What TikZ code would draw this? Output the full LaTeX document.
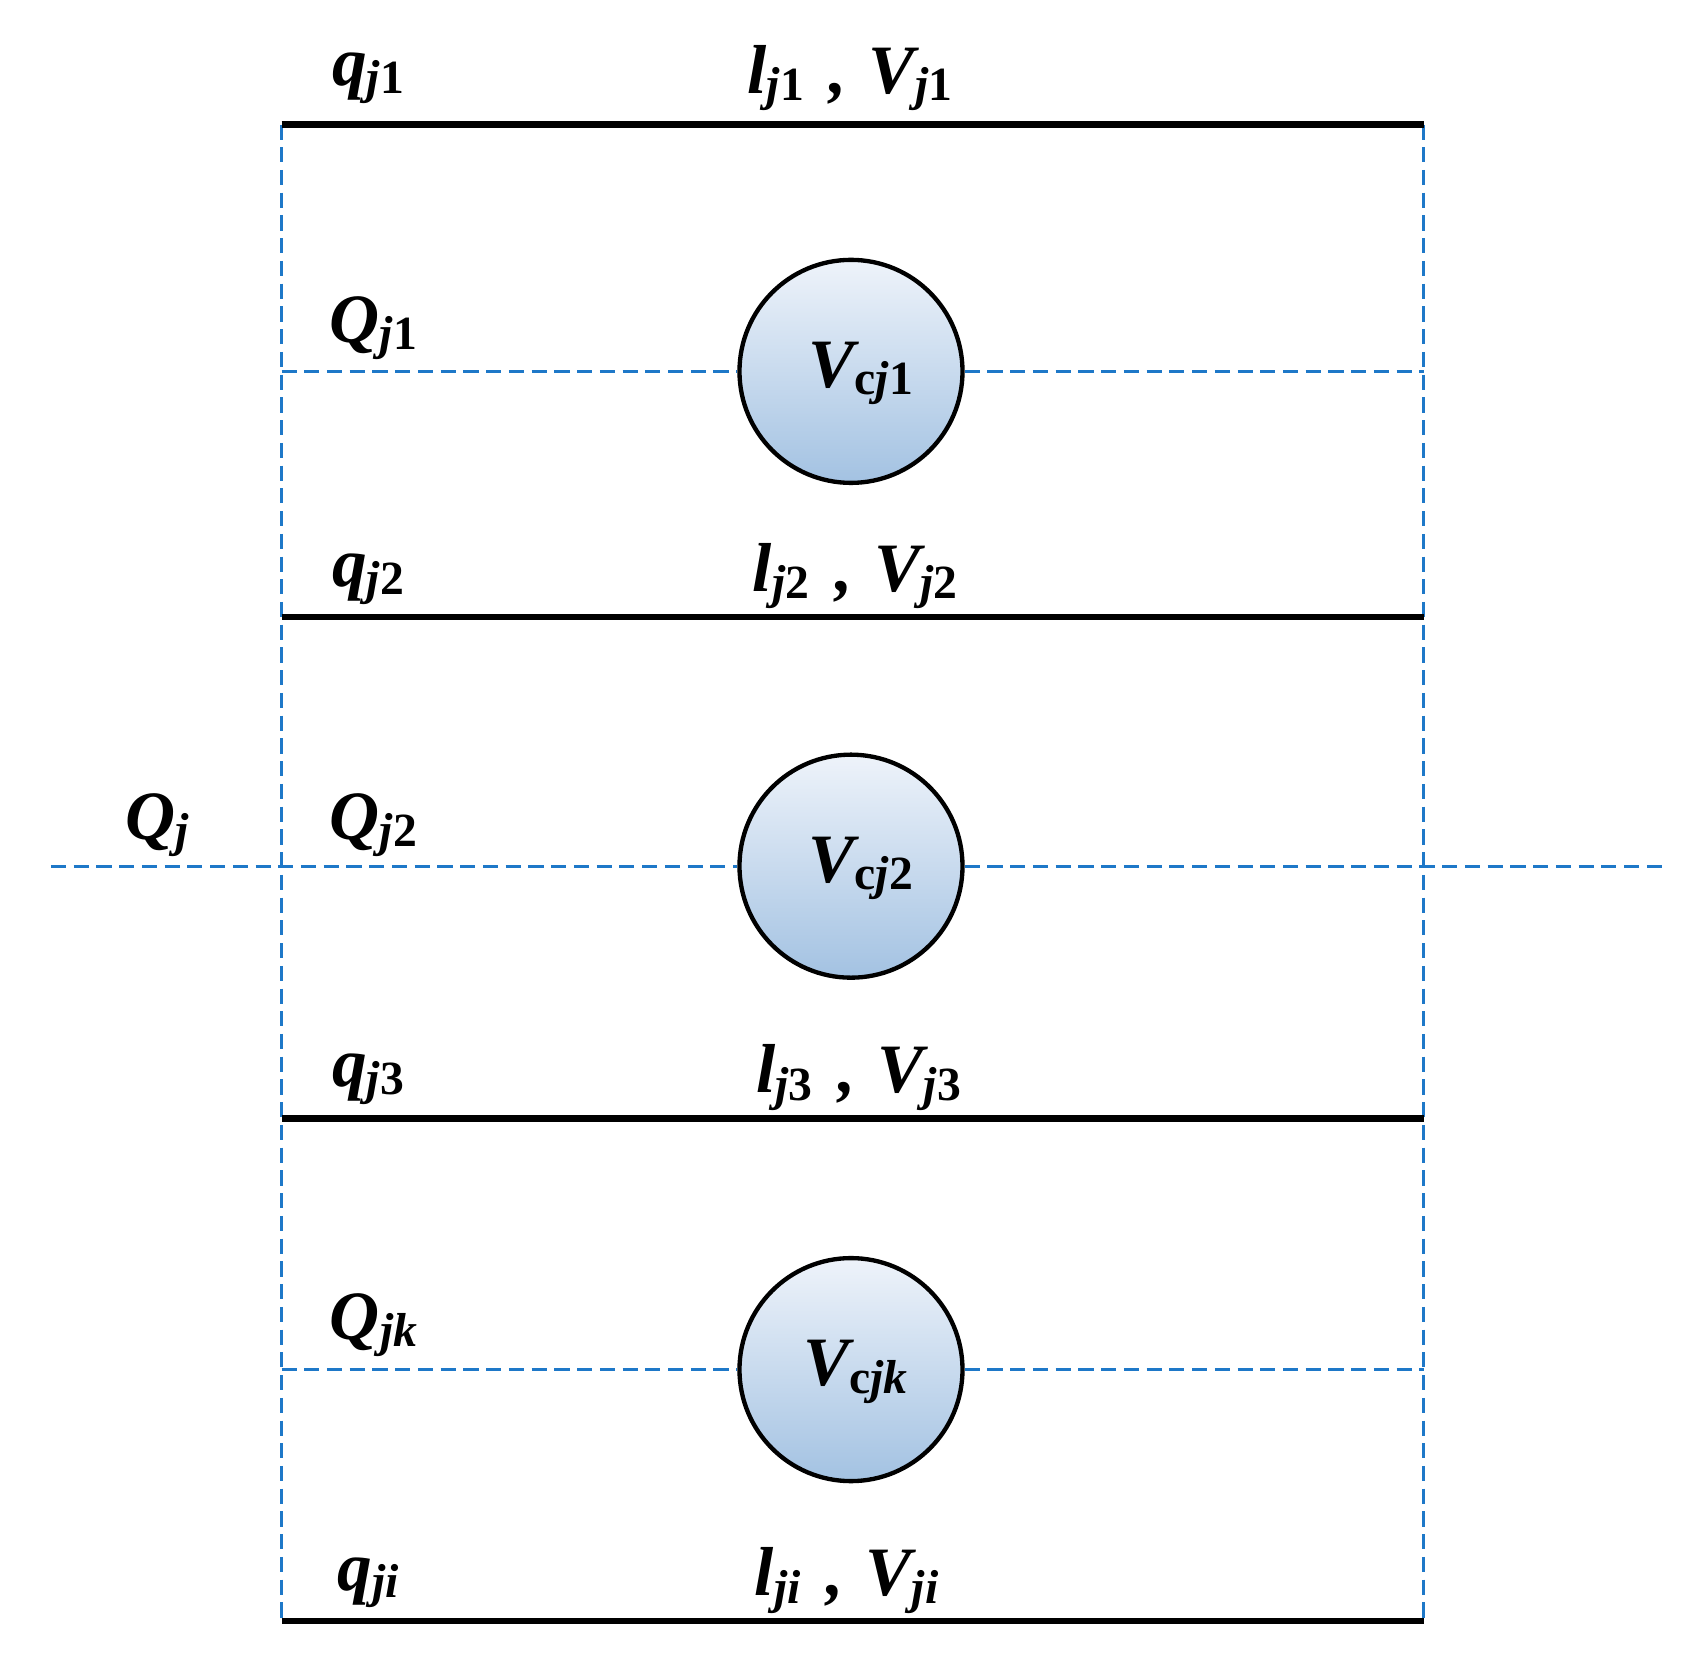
\documentclass[tikz,border=0pt]{standalone}
\usepackage{fontspec}
\setmainfont{Liberation Serif}
\definecolor{dblue}{HTML}{1E78C8}
\definecolor{ctop}{HTML}{EEF3FA}
\definecolor{cbot}{HTML}{A3C2E2}
\newcommand{\vb}[2]{{\fontsize{32}{36}\selectfont\bfseries\itshape #1}\raisebox{-0.35em}{\fontsize{22}{24}\selectfont\bfseries #2}}
\begin{document}
\begin{tikzpicture}[x=0.5pt,y=-0.5pt,
  blue dash/.style={draw=dblue,line width=1.5pt,dash pattern=on 7pt off 3.5pt},
  bar/.style={line width=3pt,black},
  tank/.style={circle,draw=black,line width=2pt,minimum size=103pt,inner sep=0pt,top color=ctop,bottom color=cbot},
  lab/.style={inner sep=0pt}]
\useasboundingbox (0,0) rectangle (1560,1532);
\coordinate (L1) at (260,115); \coordinate (R1) at (1315,115);
\coordinate (L2) at (260,570); \coordinate (R2) at (1315,570);
\coordinate (L3) at (260,1033); \coordinate (R3) at (1315,1033);
\coordinate (L4) at (260,1497); \coordinate (R4) at (1315,1497);
\coordinate (a1) at (260,343); \coordinate (b1) at (1315,343);
\coordinate (a2) at (47,800); \coordinate (b2) at (1535,800);
\coordinate (a3) at (260,1265); \coordinate (b3) at (1315,1265);
\draw[blue dash] (L1) -- (L4);
\draw[blue dash] (R1) -- (R4);
\node[tank] (c1) at (786,343) {};
\node[tank] (c2) at (786,800) {};
\node[tank] (c3) at (786,1265) {};
\draw[blue dash] (a1) -- (c1) (c1) -- (b1);
\draw[blue dash] (a2) -- (c2) (c2) -- (b2);
\draw[blue dash] (a3) -- (c3) (c3) -- (b3);
\draw[bar] (L1) -- (R1);
\draw[bar] (L2) -- (R2);
\draw[bar] (L3) -- (R3);
\draw[bar] (L4) -- (R4);
\node[lab] (t1) at (795,345) {\vb{V}{c\textit{j}1}};
\node[lab] (t2) at (795,802) {\vb{V}{c\textit{j}2}};
\node[lab] (t3) at (790,1267) {\vb{V}{c\textit{jk}}};
\node[lab] (q1) at (340,72) {\vb{q}{\textit{j}1}};
\node[lab] (q2) at (340,535) {\vb{q}{\textit{j}2}};
\node[lab] (q3) at (340,997) {\vb{q}{\textit{j}3}};
\node[lab] (q4) at (340,1462) {\vb{q}{\textit{ji}}};
\node[lab] (Q1) at (345,303) {\vb{Q}{\textit{j}1}};
\node[lab] (Q2) at (345,762) {\vb{Q}{\textit{j}2}};
\node[lab] (Q3) at (345,1224) {\vb{Q}{\textit{jk}}};
\node[lab] (Q) at (145,762) {\vb{Q}{\textit{j}}};
\node[lab] (v1) at (785,72) {\vb{l}{\textit{j}1}\hspace{12pt}\vb{,}{}\hspace{10pt}\vb{V}{\textit{j}1}};
\node[lab] (v2) at (790,532) {\vb{l}{\textit{j}2}\hspace{12pt}\vb{,}{}\hspace{10pt}\vb{V}{\textit{j}2}};
\node[lab] (v3) at (793,995) {\vb{l}{\textit{j}3}\hspace{12pt}\vb{,}{}\hspace{10pt}\vb{V}{\textit{j}3}};
\node[lab] (v4) at (782,1460) {\vb{l}{\textit{ji}}\hspace{12pt}\vb{,}{}\hspace{10pt}\vb{V}{\textit{ji}}};
\end{tikzpicture}
\end{document}
